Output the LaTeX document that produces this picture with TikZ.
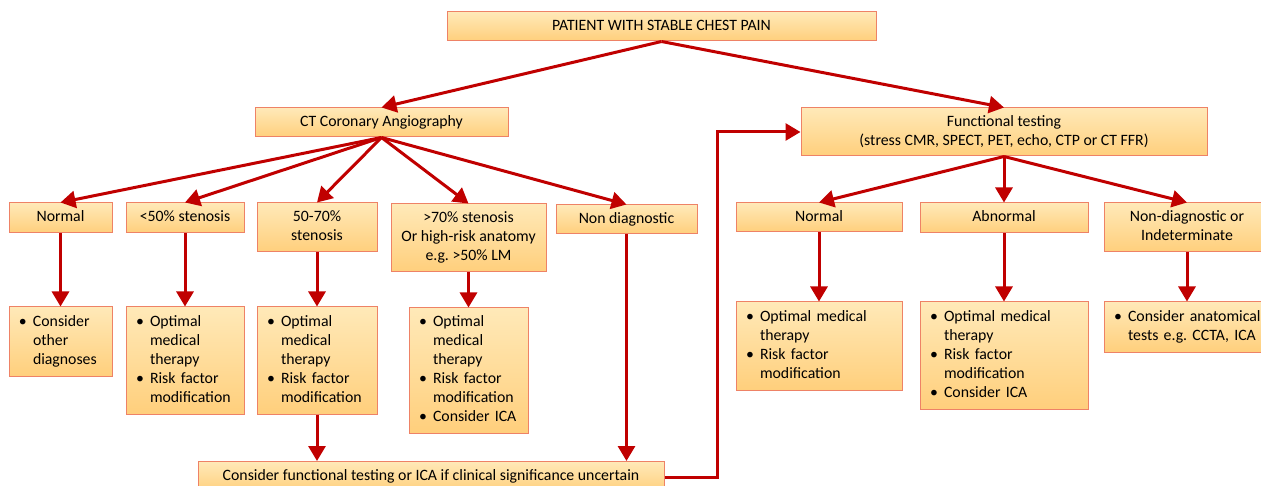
\documentclass[tikz,border=0pt]{standalone}
\usepackage{fontspec}
\setmainfont{Carlito}
\usetikzlibrary{arrows.meta,calc}
\definecolor{arrred}{HTML}{C00000}
\definecolor{boxtop}{HTML}{FFE9B8}
\definecolor{boxbot}{HTML}{FFCF7C}
\definecolor{boxline}{HTML}{EE8266}
\frenchspacing
\newcommand{\ctx}[1]{\begin{tabular}{@{}c@{}}#1\end{tabular}}
\newcommand{\btx}[1]{\noindent\begin{tabular}{@{}p{14pt}@{}l@{}}#1\end{tabular}}
\newcommand{\bl}{\textbullet}
\tikzset{
  box/.style={draw=boxline, line width=1pt, top color=boxtop, bottom color=boxbot,
    inner sep=0pt, font=\fontsize{15.8}{19}\selectfont, align=center, text=black},
  blist/.style={box, align=left, inner xsep=10pt},
  arr/.style={draw=arrred, line width=3pt, -{Triangle[length=15pt,width=17pt]}},
}
\begin{document}
\begin{tikzpicture}[x=1pt,y=-1pt]
\useasboundingbox (0,0) rectangle (1261,486);
% top and second level
\node[box, minimum width=429, minimum height=29] (top) at (661.5,26.5) {\ctx{PATIENT WITH STABLE CHEST PAIN}};
\node[box, minimum width=253, minimum height=29] (ct) at (381.5,122.5) {\ctx{CT Coronary Angiography}};
\node[box, minimum width=406, minimum height=48] (ft) at (1004,132) {\ctx{Functional testing\\(stress CMR, SPECT, PET, echo, CTP or CT FFR)}};
% CT results
\node[box, minimum width=103, minimum height=30] (n1) at (60.5,218) {\ctx{Normal}};
\node[box, minimum width=118, minimum height=30] (n2) at (185,218) {\ctx{<50\% stenosis}};
\node[box, minimum width=120, minimum height=49] (n3) at (317,227.5) {\ctx{50-70\%\\stenosis}};
\node[box, minimum width=155, minimum height=68] (n4) at (468.5,238) {\ctx{>70\% stenosis\\Or high-risk anatomy\\e.g. >50\% LM}};
\node[box, minimum width=141, minimum height=29] (n5) at (626.5,219.5) {\ctx{Non diagnostic}};
% functional results
\node[box, minimum width=166, minimum height=29] (r1) at (819,217.5) {\ctx{Normal}};
\node[box, minimum width=168, minimum height=30] (r2) at (1004,218) {\ctx{Abnormal}};
\node[box, minimum width=166, minimum height=49] (r3) at (1187,227.5) {\ctx{Non-diagnostic or\\Indeterminate}};
% management boxes
\node[blist, text width=83, minimum width=103, minimum height=69] (b1) at (60.5,341.5)
  {\btx{\bl & Consider\\ & other\\ & diagnoses}};
\node[blist, text width=98, minimum width=118, minimum height=107] (b2) at (185,360.5)
  {\btx{\bl & Optimal\\ & medical\\ & therapy\\ \bl & Risk factor\\ & modification}};
\node[blist, text width=100, minimum width=120, minimum height=107] (b3) at (317,360.5)
  {\btx{\bl & Optimal\\ & medical\\ & therapy\\ \bl & Risk factor\\ & modification}};
\node[blist, text width=99, minimum width=119, minimum height=125] (b4) at (468.5,370.5)
  {\btx{\bl & Optimal\\ & medical\\ & therapy\\ \bl & Risk factor\\ & modification\\ \bl & Consider ICA}};
\node[blist, text width=146, minimum width=166, minimum height=88] (rb1) at (819,346)
  {\btx{\bl & Optimal medical\\ & therapy\\ \bl & Risk factor\\ & modification}};
\node[blist, text width=148, minimum width=168, minimum height=107] (rb2) at (1004,355.5)
  {\btx{\bl & Optimal medical\\ & therapy\\ \bl & Risk factor\\ & modification\\ \bl & Consider ICA}};
\node[blist, text width=146, minimum width=166, minimum height=50] (rb3) at (1187,327)
  {\btx{\bl & Consider anatomical\\ & tests e.g. CCTA, ICA}};
% bottom
\node[box, minimum width=466, minimum height=31] (bb) at (431,477) {\ctx{Consider functional testing or ICA if clinical significance uncertain}};
\coordinate (loop) at (717.5,0);
% connectors
\draw[arr] (top.south) -- (ct.north);
\draw[arr] (top.south) -- (ft.north);
\foreach \n in {n1,n2,n3,n4,n5} \draw[arr] (ct.south) -- (\n.north);
\foreach \n in {r1,r2,r3} \draw[arr] (ft.south) -- (\n.north);
\draw[arr] (n1.south) -- (b1.north);
\draw[arr] (n2.south) -- (b2.north);
\draw[arr] (n3.south) -- (b3.north);
\draw[arr] (n4.south) -- (b4.north);
\draw[arr] (r1.south) -- (rb1.north);
\draw[arr] (r2.south) -- (rb2.north);
\draw[arr] (r3.south) -- (rb3.north);
\draw[arr] (b3.south) -- (b3.south |- bb.north);
\draw[arr] (n5.south) -- (n5.south |- bb.north);
\draw[arr] (bb.east) -- (bb.east -| loop) -- (loop |- ft.west) -- (ft.west);
\end{tikzpicture}
\end{document}
